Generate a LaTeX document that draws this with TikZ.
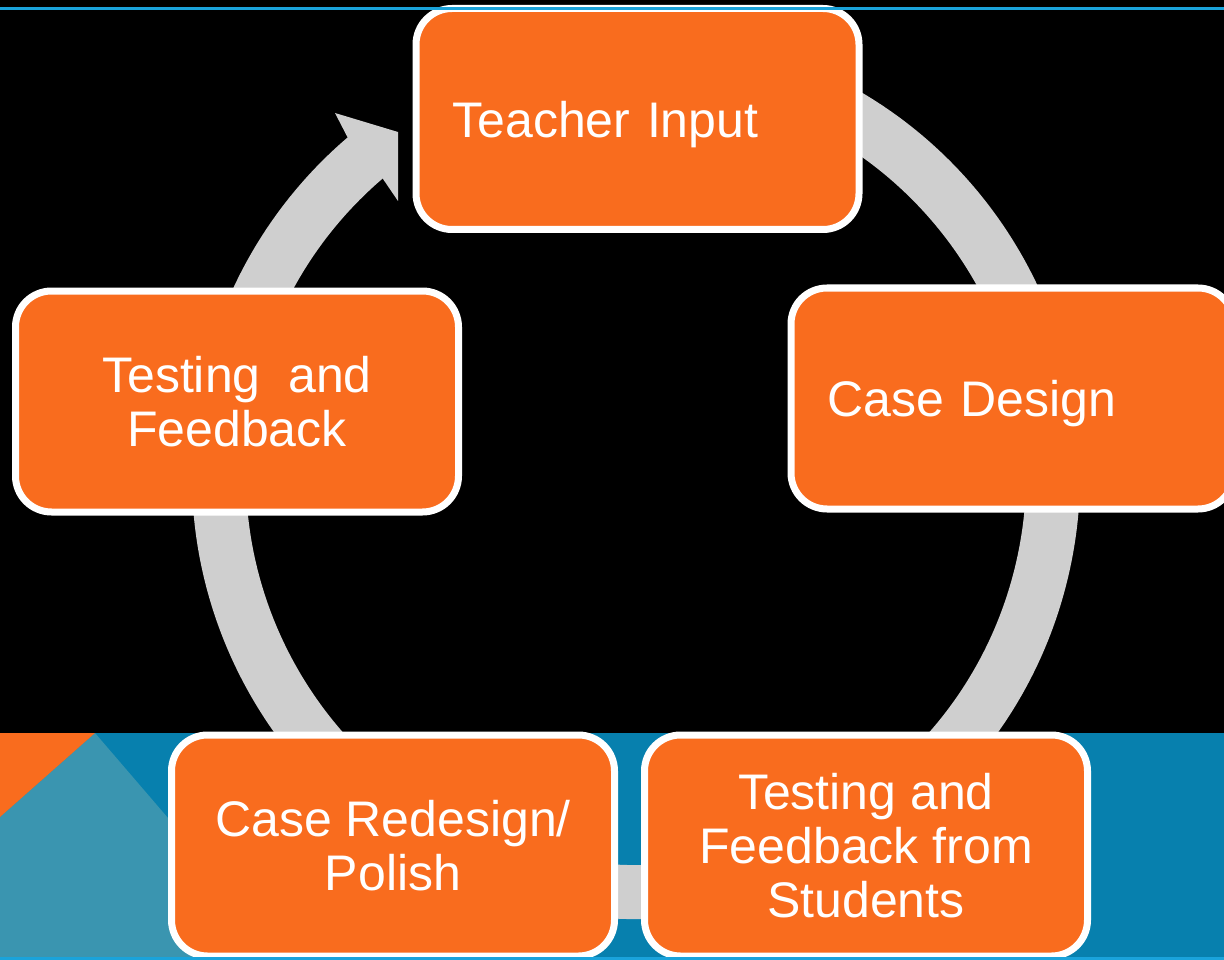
\documentclass[tikz,border=0pt]{standalone}
\usepackage{fontspec}
\setmainfont{Liberation Sans}
\definecolor{boxorange}{HTML}{F96C1E}
\definecolor{ringgray}{HTML}{CFCFCF}
\definecolor{bandblue}{HTML}{0780AE}
\definecolor{lightblue}{HTML}{3A95B0}
\definecolor{cyanline}{HTML}{1AA3DB}
\begin{document}
\begin{tikzpicture}[x=1pt,y=-1pt,
  stage/.style={rectangle, rounded corners=36pt, draw=white, line width=7pt,
    fill=boxorange, minimum width=443pt, minimum height=221pt, text=white,
    font=\fontsize{50}{54}\selectfont, inner sep=0pt},
  leftstage/.style={stage, text width=370pt, align=left, text depth=0pt},
  midstage/.style={stage, align=center},
  ring/.style={ringgray, line width=54pt}]
\useasboundingbox (0,0) rectangle (1224,960);
\clip (0,0) rectangle (1224,960);
% background
\fill[black] (0,0) rectangle (1224,960);
\fill[bandblue] (0,733) rectangle (1224,960);
\fill[lightblue] (95,733) -- (0,817) -- (0,960) -- (290,960) -- cycle;
\fill[boxorange] (0,733) -- (95,733) -- (0,817) -- cycle;
% cycle arrow
\coordinate (ringc) at (636,475);
\draw[ring] (ringc) ++(-75:417) arc[start angle=-75, end angle=229.7, radius=417];
\fill[ringgray] (347.6,137.4) -- (335,113) -- (398,132) -- (398,201) -- (382.7,178.5) -- cycle;
% stages
\node[leftstage] (ti) at (637.5,119) {Teacher Input};
\node[leftstage] (cd) at (1012.5,398.5) {Case Design};
\node[midstage] (tf) at (237,401.5) {Testing\ \ and\\Feedback};
\node[midstage] (cr) at (393,845.5) {Case Redesign/\\Polish};
\node[midstage] (ts) at (866,845.5) {Testing and\\Feedback from\\Students};
% rules
\draw[cyanline, line width=2.5pt] (0,8.5) -- (1224,8.5);
\fill[cyanline] (0,957) rectangle (1224,960);
\end{tikzpicture}
\end{document}
